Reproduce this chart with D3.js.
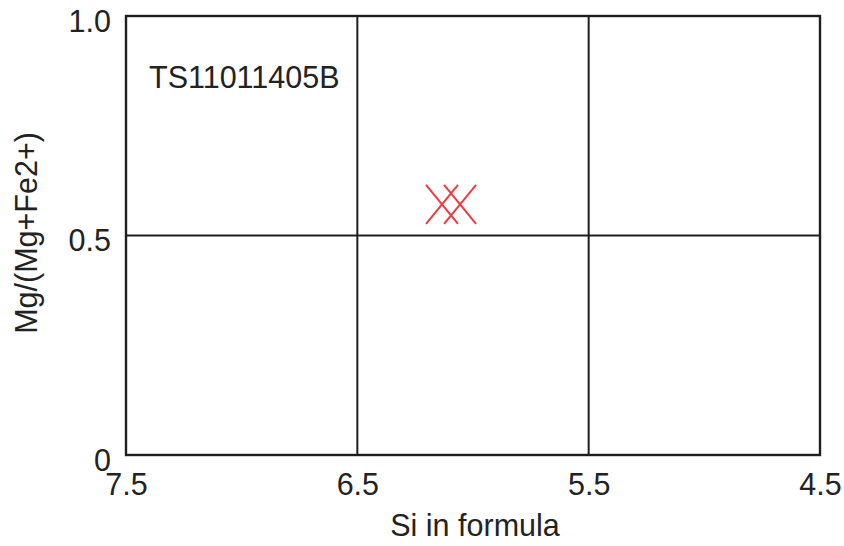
<!DOCTYPE html>
<html>
<head>
<meta charset="utf-8">
<script src="https://cdn.jsdelivr.net/npm/d3@7"></script>
<style>
  html, body { margin: 0; padding: 0; background: #fff; }
  svg { display: block; }
  text { font-family: "Liberation Sans", Arial, sans-serif; fill: #222; }
</style>
</head>
<body>
<svg id="chart" width="844" height="546"></svg>
<script>
// Sample name and point analyses (Si atoms per formula unit vs Mg number)
const sampleName = "TS11011405B";
const siValues = [6.134, 6.056];
const mgNumber = [0.571, 0.571];

const xTicks = [7.5, 6.5, 5.5, 4.5];
const xTickLabels = ["7.5", "6.5", "5.5", "4.5"];
const yTicks = [0, 0.5, 1.0];
const yTickLabels = ["0", "0.5", "1.0"];

const xTitle = "Si in formula";
const yTitle = "Mg/(Mg+Fe2+)";

const svg = d3.select("#chart");
const margin = { left: 126, top: 16, right: 24, bottom: 91 };
const W = 844, H = 546;
const iw = W - margin.left - margin.right;
const ih = H - margin.top - margin.bottom;

const x = d3.scaleLinear().domain([7.5, 4.5]).range([0, iw]);
const y = d3.scaleLinear().domain([0, 1]).range([ih, 0]);

const g = svg.append("g").attr("transform", `translate(${margin.left},${margin.top})`);

const lineColor = "#1e1e1e";
const fontSize = 30.5;
const fontFamily = '"Liberation Sans", Arial, sans-serif';

// inner grid lines
g.selectAll("line.vgrid").data(xTicks.slice(1, -1)).enter().append("line")
  .attr("x1", d => x(d)).attr("x2", d => x(d))
  .attr("y1", 0).attr("y2", ih)
  .attr("stroke", lineColor).attr("stroke-width", 2);
g.selectAll("line.hgrid").data(yTicks.slice(1, -1)).enter().append("line")
  .attr("x1", 0).attr("x2", iw)
  .attr("y1", d => y(d)).attr("y2", d => y(d))
  .attr("stroke", lineColor).attr("stroke-width", 2);

// frame
g.append("rect").attr("x", 0).attr("y", 0).attr("width", iw).attr("height", ih)
  .attr("fill", "none").attr("stroke", lineColor).attr("stroke-width", 2.4);

// x axis labels
const xAxis = d3.axisBottom(x).tickValues(xTicks)
  .tickFormat((d, i) => xTickLabels[i]).tickSize(0).tickPadding(18);
const xa = g.append("g").attr("transform", `translate(0,${ih})`).call(xAxis);
xa.select(".domain").remove();
xa.selectAll("text").attr("font-size", fontSize).attr("fill", "#222")
  .style("font-family", fontFamily);

// y axis labels
const yAxis = d3.axisLeft(y).tickValues(yTicks)
  .tickFormat((d, i) => yTickLabels[i]).tickSize(0).tickPadding(15);
const ya = g.append("g").call(yAxis);
ya.select(".domain").remove();
ya.selectAll("text").attr("font-size", fontSize).attr("fill", "#222")
  .attr("dy", "0.5em")
  .style("font-family", fontFamily);

// axis titles
svg.append("text").attr("x", margin.left + iw / 2 + 2).attr("y", 536)
  .attr("text-anchor", "middle").attr("font-size", fontSize).text(xTitle);
svg.append("text").attr("transform", `translate(37,233) rotate(-90)`)
  .attr("text-anchor", "middle").attr("font-size", fontSize).text(yTitle);

// sample label
svg.append("text").attr("x", 149).attr("y", 88)
  .attr("font-size", fontSize).text(sampleName);

// cross markers
const hw = 16, hh = 19.5;
const pts = siValues.map((v, i) => ({ si: v, mg: mgNumber[i] }));
const marks = g.selectAll("g.mark").data(pts).enter().append("g")
  .attr("transform", d => `translate(${x(d.si)},${y(d.mg)})`);
marks.append("line").attr("x1", -hw).attr("y1", -hh).attr("x2", hw).attr("y2", hh)
  .attr("stroke", "#ee3b43").attr("stroke-width", 2);
marks.append("line").attr("x1", -hw).attr("y1", hh).attr("x2", hw).attr("y2", -hh)
  .attr("stroke", "#ee3b43").attr("stroke-width", 2);
</script>
</body>
</html>
